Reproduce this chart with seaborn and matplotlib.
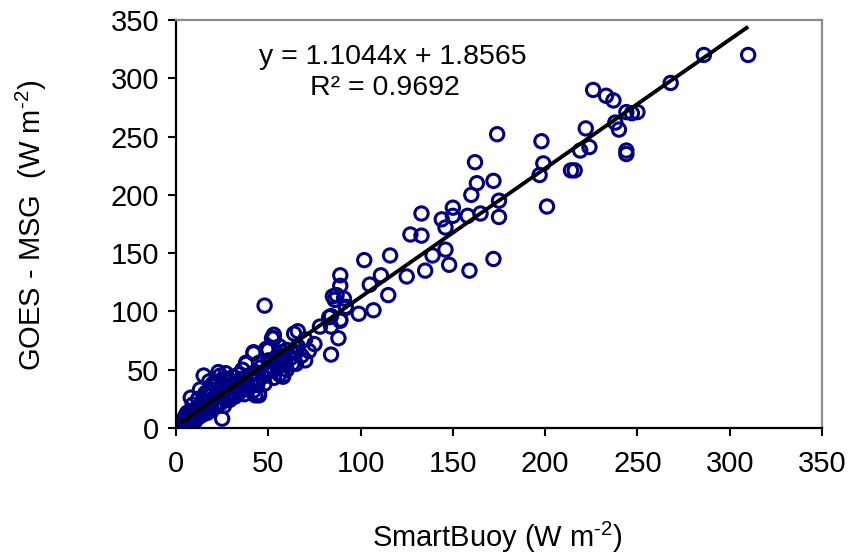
import numpy as np
import pandas as pd
import matplotlib
matplotlib.use("Agg")
import matplotlib.pyplot as plt
import seaborn as sns

sns.set_theme(style="white")
plt.rcParams['font.family'] = ['Liberation Sans', 'DejaVu Sans']
plt.rcParams['mathtext.fontset'] = 'custom'
plt.rcParams['mathtext.rm'] = 'Liberation Sans'
plt.rcParams['mathtext.default'] = 'regular'
plt.rcParams['text.color'] = 'black'

# SmartBuoy (x) and GOES-MSG (y) values, W m-2
smartbuoy = [
    310, 286, 268, 226, 233, 237, 244, 247, 250, 238, 240, 222, 224, 219, 244, 244, 216,
    174, 198, 162, 199, 163, 172, 197, 214, 160, 175, 201, 150, 150, 158, 165, 175, 133,
    144, 146, 127, 133, 146, 139, 116, 102, 148, 172, 135, 159, 125, 111, 105, 115, 89,
    89, 85, 87, 91, 107, 99, 92, 83, 89,
    48, 86, 92, 84, 89, 84, 78, 66, 88, 84, 70, 53, 50, 56, 60, 65, 70, 63, 58, 53,
    53, 64, 42, 49, 57, 63, 38, 45, 52, 58, 65, 58, 49, 44, 35, 45, 43,
    25, 45, 15, 23, 13, 8, 42, 38, 52, 50, 55, 56,
    4, 5, 5, 6, 6, 7, 7, 8, 8, 9, 9, 10, 10, 11, 11, 12, 12, 13, 14, 14, 15, 15, 16, 17,
    17, 18, 19, 19, 20, 21, 21, 22, 23, 23, 24, 25, 25, 26, 27, 28, 28, 29, 30, 30, 31,
    32, 33, 33, 34, 35, 36, 37, 38, 39, 40, 41, 42, 43, 44, 46, 47, 48, 50, 51, 53, 54,
    55, 57, 59, 60, 62, 66, 68, 72, 75, 5, 6, 4, 9, 12, 16, 20, 22, 26, 18, 27, 24, 34, 36,
    3, 4, 6, 7, 8, 10, 11, 13, 14, 16, 18, 19, 21, 24, 26, 29, 31, 35, 39, 41,
]
goes_msg = [
    320, 320, 296, 290, 285, 281, 271, 270, 271, 262, 256, 257, 241, 238, 238, 235, 221,
    252, 246, 228, 227, 210, 212, 217, 221, 200, 195, 190, 189, 182, 182, 184, 181, 184,
    179, 172, 166, 165, 153, 148, 148, 144, 140, 145, 135, 135, 130, 131, 123, 114, 131,
    122, 113, 114, 111, 101, 98, 104, 95, 93,
    105, 110, 103, 96, 92, 87, 87, 83, 77, 63, 76, 77, 67, 70, 67, 65, 58, 55, 45, 50,
    80, 81, 65, 68, 65, 64, 55, 56, 57, 56, 55, 44, 47, 37, 35, 30, 28,
    8, 28, 45, 48, 33, 26, 64, 56, 77, 67, 56, 46,
    3, 5, 2, 7, 4, 10, 3, 12, 6, 8, 14, 10, 5, 15, 12, 9, 18, 14, 20, 11, 16, 24, 19, 13,
    28, 22, 17, 32, 25, 20, 36, 28, 22, 40, 30, 26, 35, 19, 33, 28, 42, 24, 36, 31, 44,
    27, 38, 33, 30, 42, 36, 29, 40, 33, 45, 37, 32, 48, 41, 52, 44, 38, 58, 49, 43, 60,
    52, 62, 57, 50, 60, 70, 62, 66, 72, 10, 13, 7, 20, 25, 30, 38, 33, 42, 40, 47, 45, 46, 50,
    6, 3, 9, 5, 11, 7, 16, 12, 18, 14, 23, 17, 26, 21, 30, 27, 38, 34, 36, 46,
]

slope = 1.1044
intercept = 1.8565
r_squared = 0.9692

x_ticks = [0, 50, 100, 150, 200, 250, 300, 350]
y_ticks = [0, 50, 100, 150, 200, 250, 300, 350]

df = pd.DataFrame({"SmartBuoy": smartbuoy, "GOES_MSG": goes_msg})

fig = plt.figure(figsize=(8.52, 5.56), dpi=100)
ax = fig.add_axes([176 / 852, 1 - 428 / 556, (822 - 176) / 852, (428 - 20) / 556])

sns.scatterplot(data=df, x="SmartBuoy", y="GOES_MSG", ax=ax, marker="o",
                s=92, fc="none", ec="#000080", linewidth=2.2, zorder=2, legend=False)

xl = np.array([min(smartbuoy), max(smartbuoy)])
ax.plot(xl, slope * xl + intercept, color="black", lw=2.8, zorder=3,
        solid_capstyle="butt")

ax.set_xlim(0, 350)
ax.set_ylim(0, 350)
ax.set_xticks(x_ticks)
ax.set_yticks(y_ticks)
ax.tick_params(axis="both", direction="out", length=6, width=1.5, labelsize=21,
               colors="black", labelcolor="black", pad=6, bottom=True, left=True)
ax.tick_params(axis="x", pad=10)
for s in ["left", "bottom"]:
    ax.spines[s].set_color("black")
    ax.spines[s].set_linewidth(1.6)
for s in ["top", "right"]:
    ax.spines[s].set_color("#8c8c8c")
    ax.spines[s].set_linewidth(1.6)

ax.set_xlabel("")
ax.set_ylabel("")
fig.text(497 / 852, 1 - 537 / 556, r"SmartBuoy (W m$^{\text{-2}}$)", ha="center",
         va="center", fontsize=21, color="black")
fig.text(31 / 852, 1 - 225 / 556, r"GOES - MSG  (W m$^{\text{-2}}$)", ha="center",
         va="center", rotation=90, fontsize=21, color="black")

fig.text(393 / 852, 1 - 57 / 556, f"y = {slope:.4f}x + {intercept:.4f}", ha="center",
         va="center", fontsize=20.5, color="black")
fig.text(385 / 852, 1 - 88 / 556, f"R² = {r_squared:.4f}", ha="center", va="center",
         fontsize=20.5, color="black")

fig.savefig("out.png", dpi=100, facecolor="white")
